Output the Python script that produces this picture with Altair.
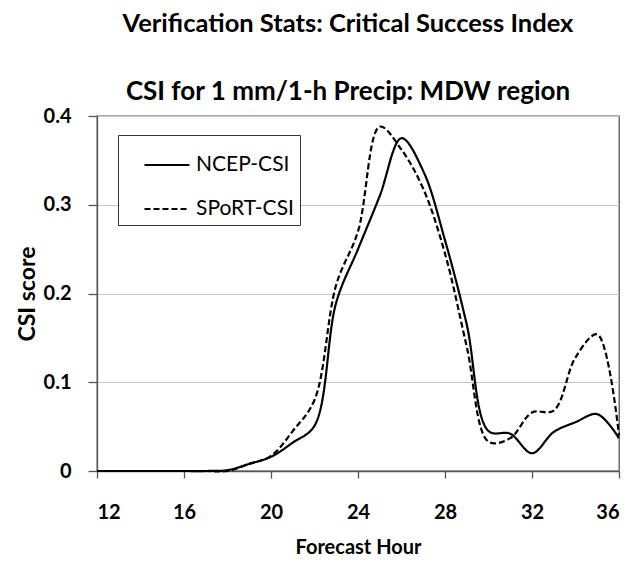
import altair as alt
import pandas as pd

hours = list(range(12, 37))
ncep = [0, 0, 0, 0, 0, 0, 0.001, 0.008, 0.016, 0.032, 0.051, 0.19, 0.25, 0.31,
        0.375, 0.338, 0.26, 0.165, 0.045, 0.042, 0.02, 0.044, 0.055, 0.064, 0.037]
sport = [0, 0, 0, 0, 0, 0, 0, 0.008, 0.017, 0.045, 0.08, 0.21, 0.27, 0.388,
         0.362, 0.318, 0.245, 0.14, 0.033, 0.037, 0.066, 0.068, 0.128, 0.154, 0.04]
series_names = ["NCEP-CSI", "SPoRT-CSI"]

rows = []
for h, a, b in zip(hours, ncep, sport):
    rows.append({"hour": h, "csi": a, "series": series_names[0]})
    rows.append({"hour": h, "csi": b, "series": series_names[1]})
df = pd.DataFrame(rows)

FONT = "Lato"

chart = alt.Chart(df).mark_line(
    interpolate="catmull-rom", color="black", strokeWidth=2.2
).encode(
    x=alt.X("hour:Q",
            scale=alt.Scale(domain=[12, 36], nice=False),
            axis=alt.Axis(values=[12, 16, 20, 24, 28, 32, 36], title="Forecast Hour",
                          grid=False, tickSize=7, labelPadding=24, titlePadding=15,
                          titleFontSize=20)),
    y=alt.Y("csi:Q",
            scale=alt.Scale(domain=[0, 0.4], nice=False),
            axis=alt.Axis(values=[0, 0.1, 0.2, 0.3, 0.4], title="CSI score", format="~g",
                          tickSize=9, labelPadding=17, titlePadding=4,
                          titleFontSize=23)),
    strokeDash=alt.StrokeDash(
        "series:N",
        scale=alt.Scale(domain=series_names, range=[[1, 0], [6, 3]]),
        legend=alt.Legend(
            title=None, orient="none", legendX=21, legendY=19,
            strokeColor="#333", fillColor="white", padding=6,
            symbolType="stroke", symbolSize=2025, symbolStrokeWidth=2.2,
            symbolStrokeColor="black", symbolOffset=19,
            labelFont=FONT, labelFontSize=21, labelColor="black",
            labelOffset=5, rowPadding=10, labelLimit=400,
        )),
    detail="series:N",
).properties(
    width=522,
    height=355,
    padding={"left": 89, "top": 108, "right": 5, "bottom": 87},
    autosize=alt.AutoSizeParams(type="none"),
    title=alt.TitleParams(
        text="Verification Stats: Critical Success Index",
        subtitle="CSI for 1 mm/1-h Precip: MDW region",
        font=FONT, fontSize=25.5, fontWeight="bold", color="black",
        subtitleFont=FONT, subtitleFontSize=26, subtitleFontWeight="bold",
        subtitleColor="black", subtitlePadding=42, offset=1,
        anchor="middle", dx=-10,
    ),
).configure_view(
    stroke="#555", strokeWidth=1.3
).configure_axis(
    domainColor="#555", tickColor="#555", gridColor="#c8c8c8",
    labelFont=FONT, labelFontSize=20, labelFontWeight="bold", labelColor="black",
    titleFont=FONT, titleFontWeight="bold", titleColor="black",
    domainWidth=1.3, tickWidth=1.3
)

chart.save("out.html", embed_options={"renderer": "svg", "actions": False})
